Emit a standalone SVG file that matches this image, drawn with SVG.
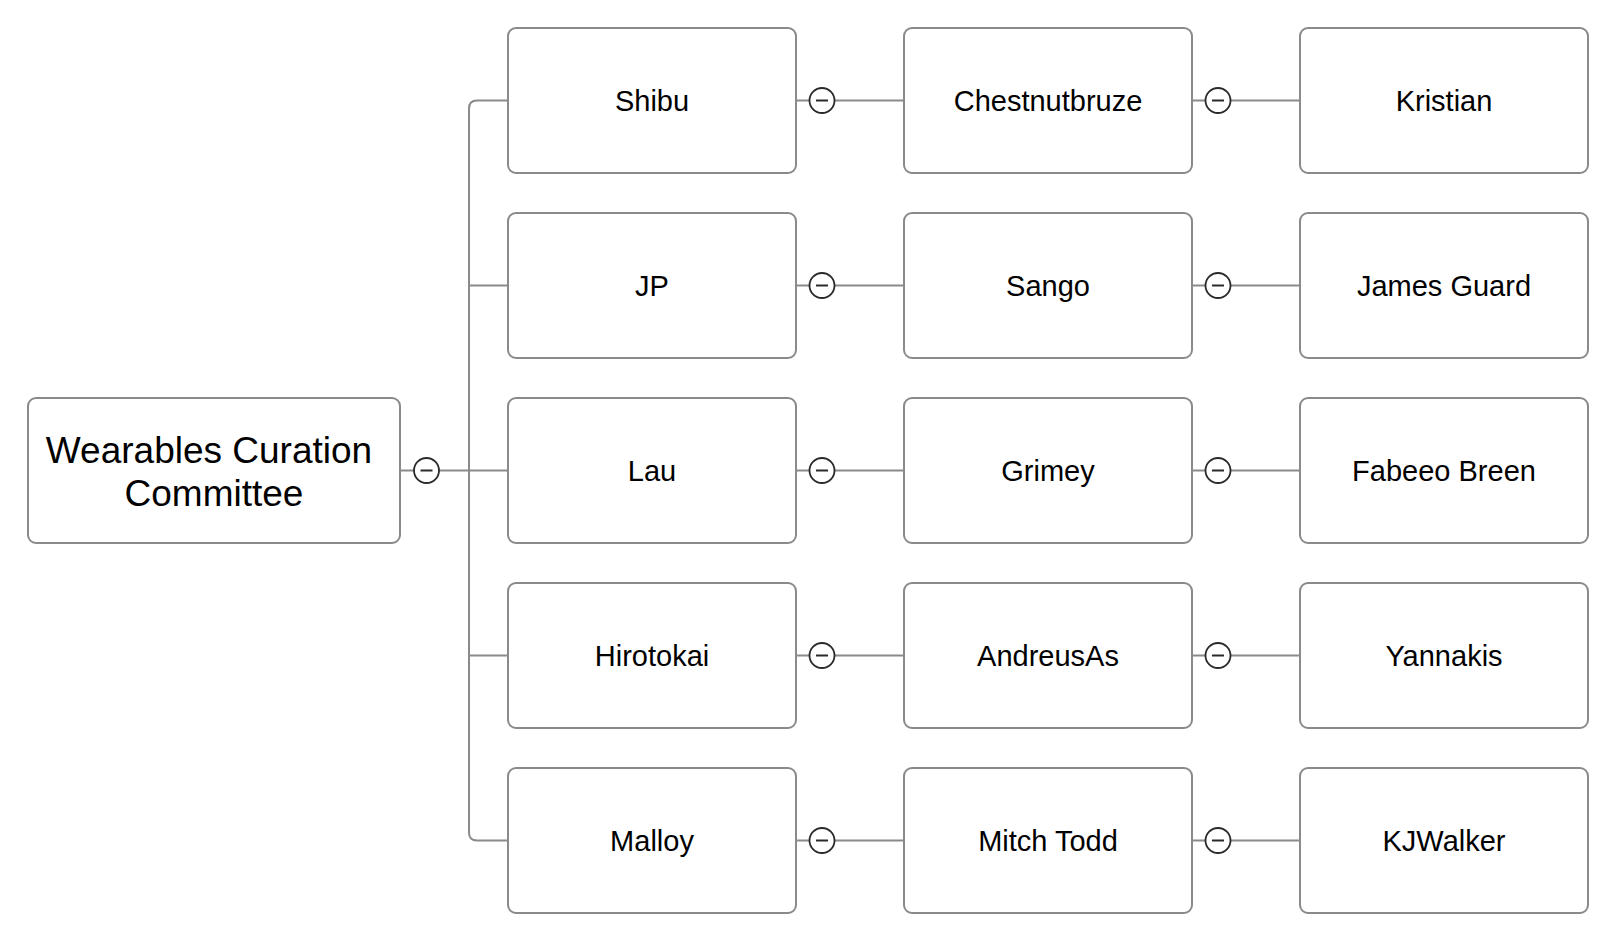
<svg xmlns="http://www.w3.org/2000/svg" width="1618" height="948" viewBox="0 0 1618 948">
<style>
.box{fill:#fff;stroke:#8a8a8a;stroke-width:2}
.lbl{font-family:"Liberation Sans",Arial,sans-serif;font-size:29px;fill:#000;text-anchor:middle}
.root{font-size:37px}
.ln{fill:none;stroke:#8a8a8a;stroke-width:2}
.tg{fill:#fff;stroke:#2a2a2a;stroke-width:1.8}
.mn{stroke:#2a2a2a;stroke-width:2}
</style>
<defs>
<g id="toggle"><circle class="tg" cx="0" cy="0" r="12.5"/><line class="mn" x1="-6" y1="0" x2="6" y2="0"/></g>
</defs>
<rect width="1618" height="948" fill="#fff"/>
<g id="connectors">
<line class="ln" x1="400" y1="470.5" x2="469" y2="470.5"/>
<path class="ln" d="M508,100.5 H477 Q469,100.5 469,108.5 V832.5 Q469,840.5 477,840.5 H508"/>
<line class="ln" x1="469" y1="285.5" x2="508" y2="285.5"/>
<line class="ln" x1="469" y1="470.5" x2="508" y2="470.5"/>
<line class="ln" x1="469" y1="655.5" x2="508" y2="655.5"/>
<line class="ln" x1="796" y1="100.5" x2="904" y2="100.5"/>
<line class="ln" x1="796" y1="285.5" x2="904" y2="285.5"/>
<line class="ln" x1="796" y1="470.5" x2="904" y2="470.5"/>
<line class="ln" x1="796" y1="655.5" x2="904" y2="655.5"/>
<line class="ln" x1="796" y1="840.5" x2="904" y2="840.5"/>
<line class="ln" x1="1192" y1="100.5" x2="1300" y2="100.5"/>
<line class="ln" x1="1192" y1="285.5" x2="1300" y2="285.5"/>
<line class="ln" x1="1192" y1="470.5" x2="1300" y2="470.5"/>
<line class="ln" x1="1192" y1="655.5" x2="1300" y2="655.5"/>
<line class="ln" x1="1192" y1="840.5" x2="1300" y2="840.5"/>
<use href="#toggle" x="426.5" y="470.5"/>
<use href="#toggle" x="822" y="100.5"/>
<use href="#toggle" x="822" y="285.5"/>
<use href="#toggle" x="822" y="470.5"/>
<use href="#toggle" x="822" y="655.5"/>
<use href="#toggle" x="822" y="840.5"/>
<use href="#toggle" x="1218" y="100.5"/>
<use href="#toggle" x="1218" y="285.5"/>
<use href="#toggle" x="1218" y="470.5"/>
<use href="#toggle" x="1218" y="655.5"/>
<use href="#toggle" x="1218" y="840.5"/>
</g>
<g id="node-root"><rect class="box" x="28" y="398" width="372" height="145" rx="8"/><text class="lbl root" x="209" y="463">Wearables Curation</text><text class="lbl root" x="214" y="506">Committee</text></g>
<g id="node-shibu"><rect class="box" x="508" y="28" width="288" height="145" rx="8"/><text class="lbl" x="652" y="111">Shibu</text></g>
<g id="node-jp"><rect class="box" x="508" y="213" width="288" height="145" rx="8"/><text class="lbl" x="652" y="296">JP</text></g>
<g id="node-lau"><rect class="box" x="508" y="398" width="288" height="145" rx="8"/><text class="lbl" x="652" y="481">Lau</text></g>
<g id="node-hirotokai"><rect class="box" x="508" y="583" width="288" height="145" rx="8"/><text class="lbl" x="652" y="666">Hirotokai</text></g>
<g id="node-malloy"><rect class="box" x="508" y="768" width="288" height="145" rx="8"/><text class="lbl" x="652" y="851">Malloy</text></g>
<g id="node-chestnutbruze"><rect class="box" x="904" y="28" width="288" height="145" rx="8"/><text class="lbl" x="1048" y="111">Chestnutbruze</text></g>
<g id="node-sango"><rect class="box" x="904" y="213" width="288" height="145" rx="8"/><text class="lbl" x="1048" y="296">Sango</text></g>
<g id="node-grimey"><rect class="box" x="904" y="398" width="288" height="145" rx="8"/><text class="lbl" x="1048" y="481">Grimey</text></g>
<g id="node-andreusas"><rect class="box" x="904" y="583" width="288" height="145" rx="8"/><text class="lbl" x="1048" y="666">AndreusAs</text></g>
<g id="node-mitchtodd"><rect class="box" x="904" y="768" width="288" height="145" rx="8"/><text class="lbl" x="1048" y="851">Mitch Todd</text></g>
<g id="node-kristian"><rect class="box" x="1300" y="28" width="288" height="145" rx="8"/><text class="lbl" x="1444" y="111">Kristian</text></g>
<g id="node-jamesguard"><rect class="box" x="1300" y="213" width="288" height="145" rx="8"/><text class="lbl" x="1444" y="296">James Guard</text></g>
<g id="node-fabeeobreen"><rect class="box" x="1300" y="398" width="288" height="145" rx="8"/><text class="lbl" x="1444" y="481">Fabeeo Breen</text></g>
<g id="node-yannakis"><rect class="box" x="1300" y="583" width="288" height="145" rx="8"/><text class="lbl" x="1444" y="666">Yannakis</text></g>
<g id="node-kjwalker"><rect class="box" x="1300" y="768" width="288" height="145" rx="8"/><text class="lbl" x="1444" y="851">KJWalker</text></g>
</svg>
